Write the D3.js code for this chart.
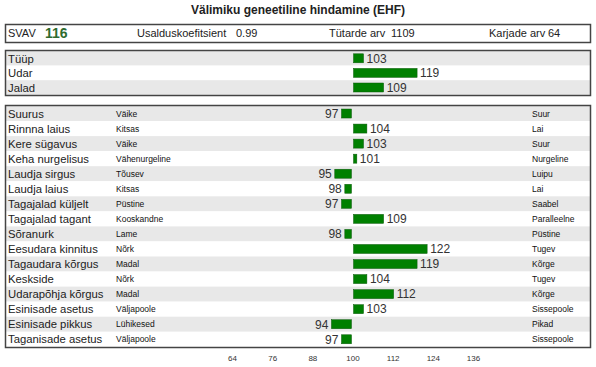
<!DOCTYPE html>
<html>
<head>
<meta charset="utf-8">
<script src="https://cdn.jsdelivr.net/npm/d3@7"></script>
<style>
  body { margin: 0; background: #fff; }
  text { font-family: "Liberation Sans", Arial, sans-serif; }
</style>
</head>
<body>
<div id="chart"></div>
<script>
const title = "Välimiku geneetiline hindamine (EHF)";
const headerItems = [
  { label: "SVAV", value: "116" },
  { label: "Usalduskoefitsient", value: "0.99" },
  { label: "Tütarde arv", value: "1109" },
  { label: "Karjade arv", value: "64" }
];

const groupNames = ["Tüüp", "Udar", "Jalad"];
const groupValues = [103, 119, 109];

const traitNames = [
  "Suurus", "Rinnna laius", "Kere sügavus", "Keha nurgelisus", "Laudja sirgus",
  "Laudja laius", "Tagajalad küljelt", "Tagajalad tagant", "Sõranurk",
  "Eesudara kinnitus", "Tagaudara kõrgus", "Keskside", "Udarapõhja kõrgus",
  "Esinisade asetus", "Esinisade pikkus", "Taganisade asetus"
];
const lowLabels = [
  "Väike", "Kitsas", "Väike", "Vähenurgeline", "Tõusev", "Kitsas", "Püstine",
  "Kooskandne", "Lame", "Nõrk", "Madal", "Nõrk", "Madal", "Väljapoole",
  "Lühikesed", "Väljapoole"
];
const highLabels = [
  "Suur", "Lai", "Suur", "Nurgeline", "Luipu", "Lai", "Saabel", "Paralleelne",
  "Püstine", "Tugev", "Kõrge", "Tugev", "Kõrge", "Sissepoole", "Pikad", "Sissepoole"
];
const traitValues = [97, 104, 103, 101, 95, 98, 97, 109, 98, 122, 119, 104, 112, 103, 94, 97];

const tickValues = [64, 76, 88, 100, 112, 124, 136];

const width = 596, height = 367;
const boxLeft = 5, boxRight = 590;
const green = "#008000";

const svg = d3.select("#chart").append("svg")
  .attr("width", width)
  .attr("height", height);

const x = d3.scaleLinear().domain([64, 136]).range([232, 473]);

// title
svg.append("text")
  .attr("x", width / 2)
  .attr("y", 14)
  .attr("text-anchor", "middle")
  .style("font-size", "12px")
  .style("font-weight", "bold")
  .attr("fill", "#222")
  .text(title);

function box(y0, y1) {
  svg.append("rect")
    .attr("x", boxLeft + 0.5).attr("y", y0 + 0.5)
    .attr("width", boxRight - boxLeft).attr("height", y1 - y0)
    .attr("fill", "none")
    .attr("stroke", "#444")
    .attr("stroke-width", 1.5);
}

// header box
const header = svg.append("g");
const headerX = [8, 137, 329, 489];
const valueX = [45, 236, 391, 548];
headerItems.forEach((d, i) => {
  header.append("text")
    .attr("x", headerX[i]).attr("y", 37)
    .style("font-size", "11px").attr("fill", "#222")
    .text(d.label);
  header.append("text")
    .attr("x", valueX[i]).attr("y", i === 0 ? 38 : 37)
    .style("font-size", i === 0 ? "14px" : "11px")
    .style("font-weight", i === 0 ? "bold" : "normal")
    .attr("fill", i === 0 ? "#2e6b2e" : "#222")
    .text(d.value);
});
box(24, 42);

function drawRows(names, values, top, rowH, lows, highs) {
  const y = d3.scaleBand().domain(d3.range(names.length))
    .range([top, top + rowH * names.length]);
  const g = svg.append("g");
  g.selectAll("rect.bg").data(names).join("rect")
    .attr("class", "bg")
    .attr("x", boxLeft + 1).attr("width", boxRight - boxLeft - 1)
    .attr("y", (d, i) => y(i)).attr("height", rowH)
    .attr("fill", (d, i) => i % 2 === 0 ? "#e8e8e8" : "#fff");
  g.selectAll("text.name").data(names).join("text")
    .attr("class", "name")
    .attr("x", 8).attr("y", (d, i) => y(i) + rowH / 2 + 4.2)
    .style("font-size", "11.3px").attr("fill", "#222")
    .text(d => d);
  if (lows) {
    g.selectAll("text.low").data(lows).join("text")
      .attr("x", 116).attr("y", (d, i) => y(i) + rowH / 2 + 3)
      .style("font-size", "8.5px").attr("fill", "#111")
      .text(d => d);
    g.selectAll("text.high").data(highs).join("text")
      .attr("x", 532).attr("y", (d, i) => y(i) + rowH / 2 + 3)
      .style("font-size", "8.5px").attr("fill", "#111")
      .text(d => d);
  }
  const bh = 9;
  g.selectAll("rect.bar").data(values).join("rect")
    .attr("x", d => d >= 100 ? x(100) + 1 : x(d) - 1)
    .attr("width", d => Math.max(2, Math.abs(x(d) - x(100))))
    .attr("y", (d, i) => y(i) + (rowH - bh) / 2)
    .attr("height", bh)
    .attr("fill", green)
    .attr("stroke", "#0a5a0a").attr("stroke-width", 0.5);
  g.selectAll("text.val").data(values).join("text")
    .attr("x", d => d >= 100 ? x(d) + 4 : x(d) - 4)
    .attr("text-anchor", d => d >= 100 ? "start" : "end")
    .attr("y", (d, i) => y(i) + rowH / 2 + 4.3)
    .style("font-size", "12px").attr("fill", "#333")
    .text(d => d);
}

drawRows(groupNames, groupValues, 51, 14.6);
box(50, 95);

drawRows(traitNames, traitValues, 106, 15.05, lowLabels, highLabels);
box(105, 347);

// axis
const axis = svg.append("g")
  .attr("transform", "translate(0,353)")
  .call(d3.axisBottom(x).tickValues(tickValues).tickSize(0).tickPadding(2));
axis.select(".domain").remove();
axis.selectAll("text")
  .style("font-family", "'Liberation Sans', Arial, sans-serif")
  .style("font-size", "8px")
  .attr("fill", "#333");
</script>
</body>
</html>
